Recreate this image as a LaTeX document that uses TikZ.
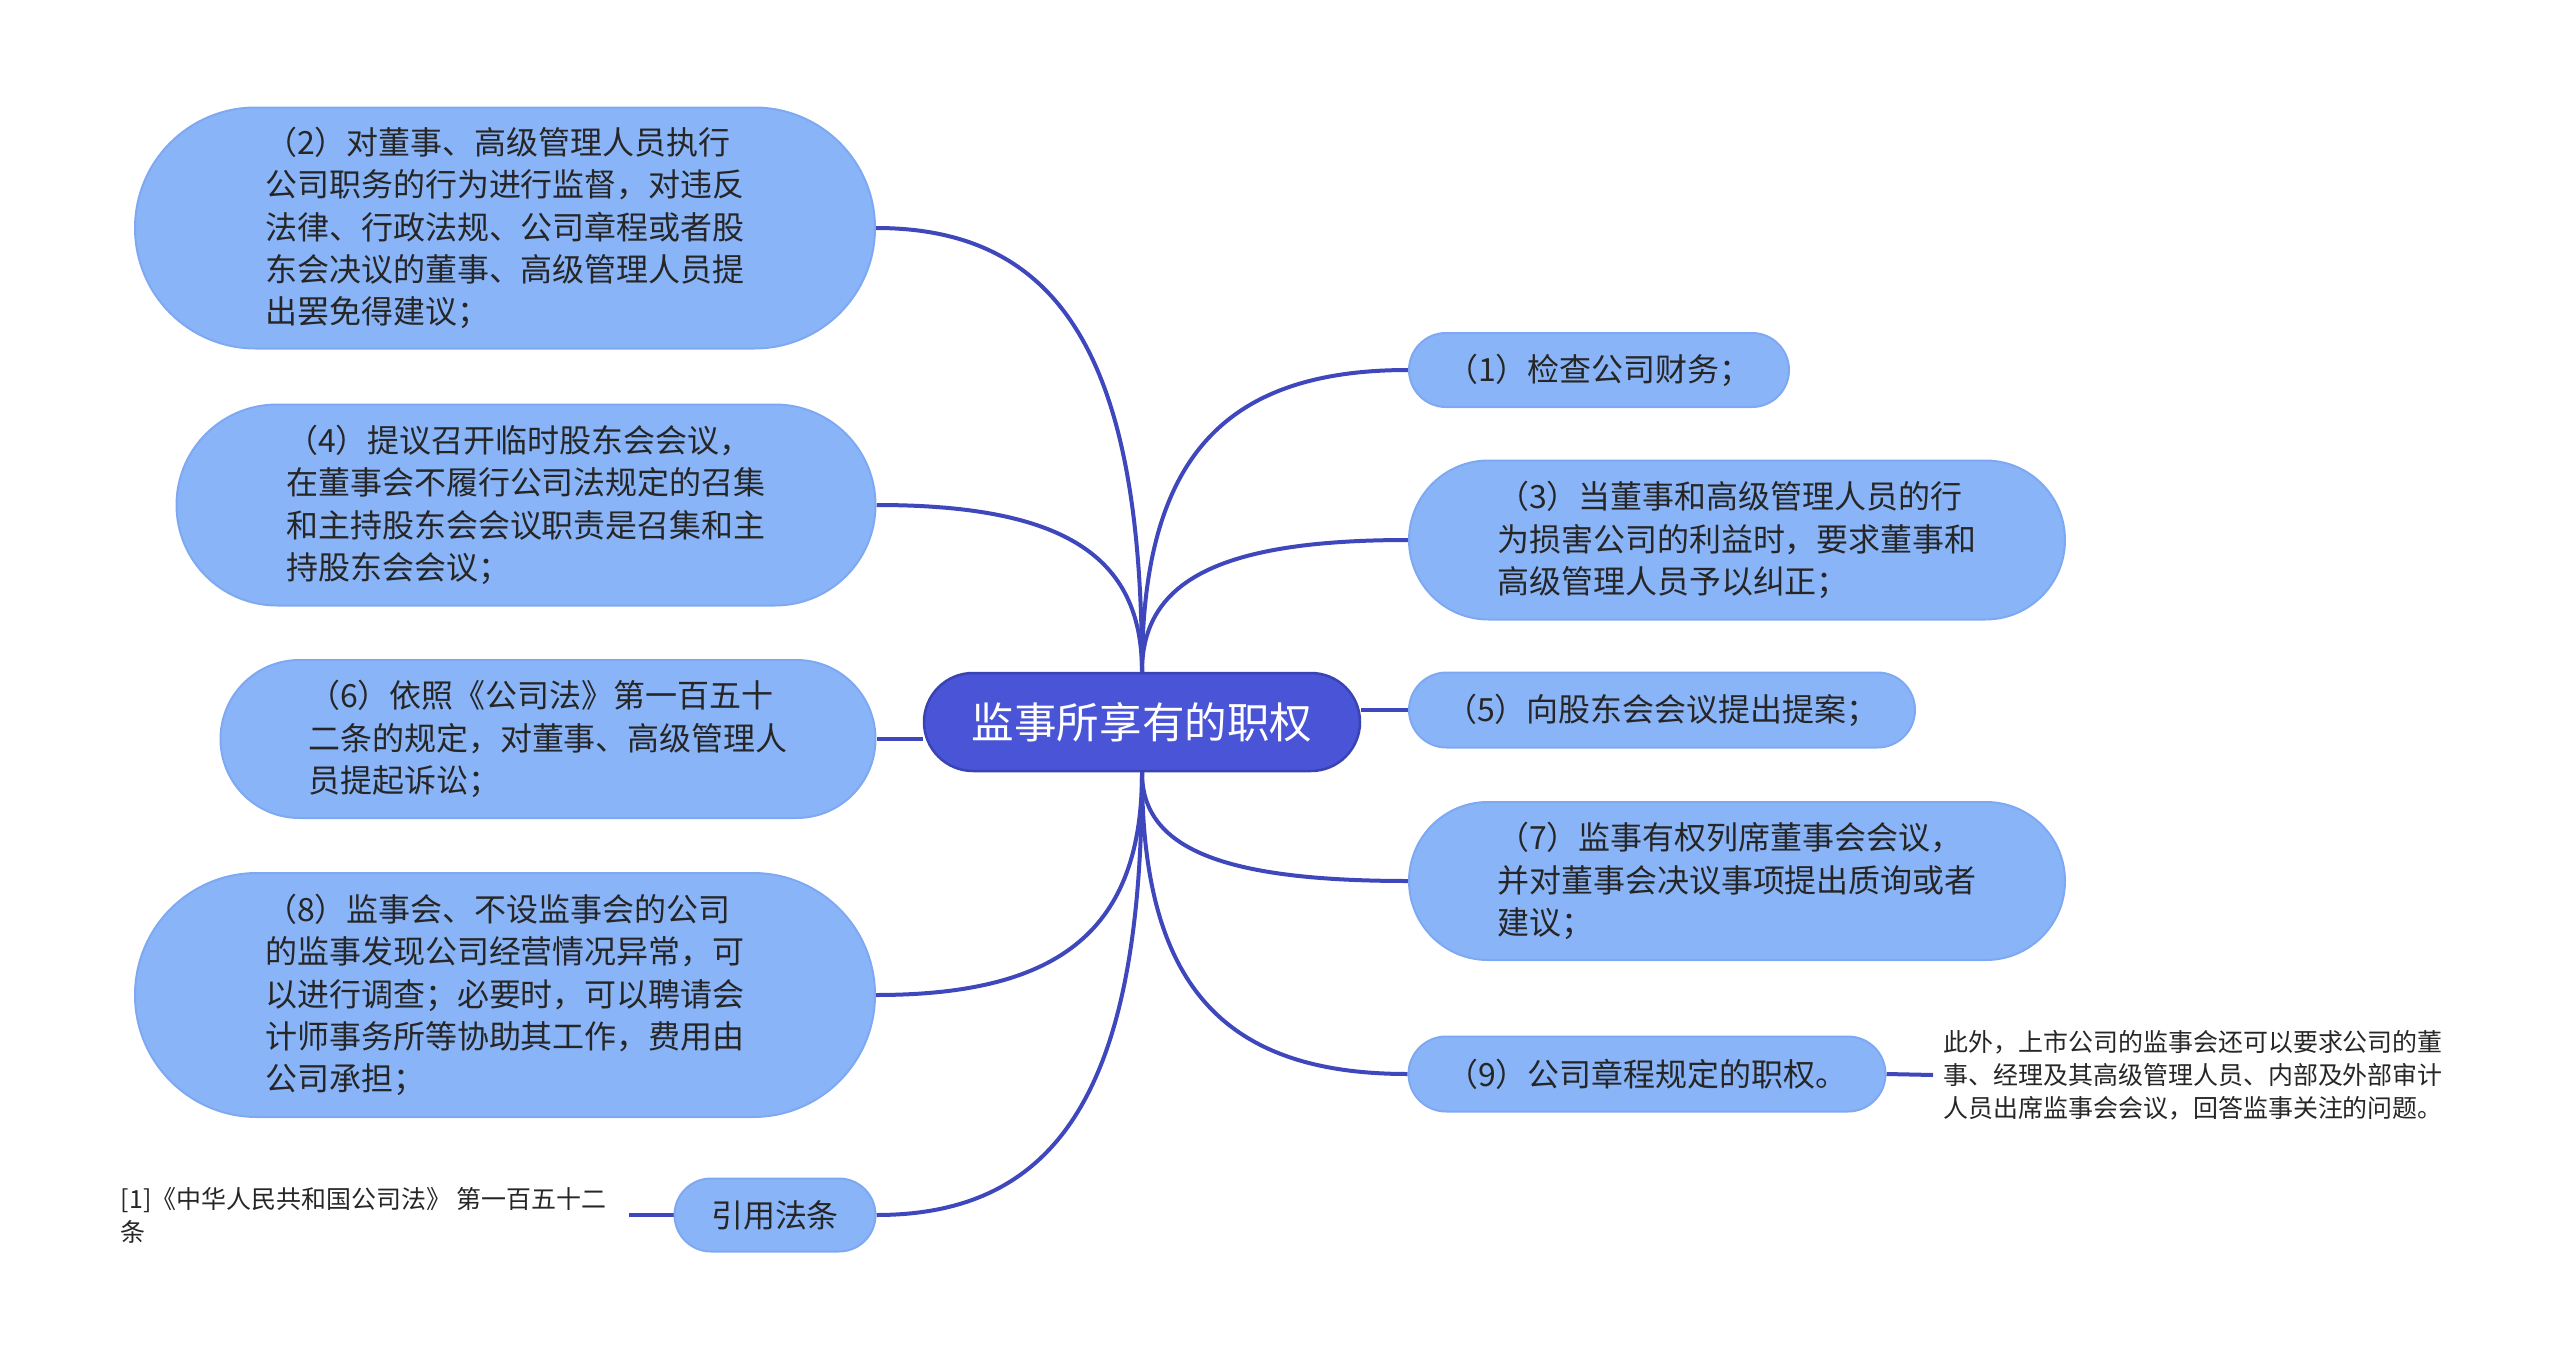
\documentclass[tikz,border=0pt]{standalone}
\usepackage{fontspec}
\newfontfamily\cjk{Noto Sans CJK SC}
\usetikzlibrary{backgrounds,calc}
\definecolor{leaffill}{HTML}{8AB4F8}
\definecolor{leafline}{HTML}{7EA9F2}
\definecolor{rootfill}{HTML}{4A54D6}
\definecolor{rootline}{HTML}{3A43B2}
\definecolor{wire}{HTML}{3F47BD}
\definecolor{ink}{HTML}{262626}
\tikzset{
  leaf/.style={draw=leafline, line width=0.2mm, fill=leaffill, text=ink, align=left, inner sep=0pt,
    font=\cjk\fontsize{9.1pt}{12.07pt}\selectfont},
  root/.style={draw=rootline, line width=0.25mm, fill=rootfill, text=white, inner sep=0pt,
    font=\cjk\fontsize{12.1pt}{14pt}\selectfont},
  note/.style={text=ink, align=left, inner sep=0pt, font=\cjk\fontsize{7.1pt}{9.4pt}\selectfont},
  pill/.style 2 args={minimum width=#1mm, minimum height=#2mm, rounded corners=#2*0.5mm},
  link/.style={draw=wire, line width=0.4mm},
  branch/.style={link, to path={.. controls ($(\tikztostart)!.7!(\tikztostart |- \tikztotarget)$)
    and ($(\tikztotarget)!.7!(\tikztostart |- \tikztotarget)$) .. (\tikztotarget)}},
}
\begin{document}
\begin{tikzpicture}[x=0.1mm, y=-0.1mm]
    \useasboundingbox (0,0) rectangle (2560,1367);
    \node[root, pill={43.6}{9.8}] (root) at (1142,722) {监事所享有的职权};
    \node[leaf, pill={74}{24.1}] (n2) at (505,228) {（2）对董事、高级管理人员执行\\公司职务的行为进行监督，对违反\\法律、行政法规、公司章程或者股\\东会决议的董事、高级管理人员提\\出罢免得建议；};
    \node[leaf, pill={69.9}{20.1}] (n4) at (526,505) {（4）提议召开临时股东会会议，\\在董事会不履行公司法规定的召集\\和主持股东会会议职责是召集和主\\持股东会会议；};
    \node[leaf, pill={65.5}{15.8}] (n6) at (548,739) {（6）依照《公司法》第一百五十\\二条的规定，对董事、高级管理人\\员提起诉讼；};
    \node[leaf, pill={74}{24.4}] (n8) at (505,995) {（8）监事会、不设监事会的公司\\的监事发现公司经营情况异常，可\\以进行调查；必要时，可以聘请会\\计师事务所等协助其工作，费用由\\公司承担；};
    \node[leaf, pill={20.1}{7.3}] (cite) at (775,1215) {引用法条};
    \node[note, anchor=east, inner xsep=2.2mm] (citenote) at (629,1215) {[1]《中华人民共和国公司法》 第一百五十二\\条};
    \node[leaf, pill={38}{7.4}] (n1) at (1599,370) {（1）检查公司财务；};
    \node[leaf, pill={65.6}{15.9}] (n3) at (1737,540) {（3）当董事和高级管理人员的行\\为损害公司的利益时，要求董事和\\高级管理人员予以纠正；};
    \node[leaf, pill={50.6}{7.5}] (n5) at (1662,710) {（5）向股东会会议提出提案；};
    \node[leaf, pill={65.6}{15.8}] (n7) at (1737,881) {（7）监事有权列席董事会会议，\\并对董事会决议事项提出质询或者\\建议；};
    \node[leaf, pill={47.7}{7.5}] (n9) at (1647,1074) {（9）公司章程规定的职权。};
    \node[note, anchor=west, inner xsep=1mm] (n9note) at (1933,1075) {此外，上市公司的监事会还可以要求公司的董\\事、经理及其高级管理人员、内部及外部审计\\人员出席监事会会议，回答监事关注的问题。};
    \begin{scope}[on background layer]
    \draw[branch] (root.north) to (n2.east);
    \draw[branch] (root.north) to (n4.east);
    \draw[branch] (root.north) to (n1.west);
    \draw[branch] (root.north) to (n3.west);
    \draw[link] (n6.east) -- (n6.east -| root.west);
    \draw[link] (n5.west) -- (n5.west -| root.east);
    \draw[branch] (root.south) to (n8.east);
    \draw[branch] (root.south) to (cite.east);
    \draw[branch] (root.south) to (n7.west);
    \draw[branch] (root.south) to (n9.west);
    \draw[link] (cite.west) -- (citenote.east);
    \draw[link] (n9.east) -- (n9note.west);
    \end{scope}
\end{tikzpicture}
\end{document}
